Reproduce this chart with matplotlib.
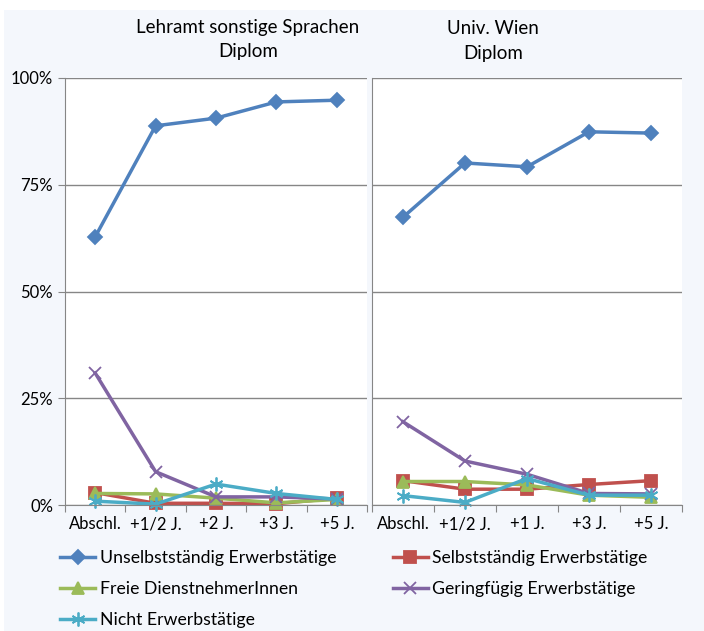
import matplotlib.pyplot as plt
import matplotlib.patches as mpatches

plt.rcParams['font.family'] = ['Lato', 'DejaVu Sans']

# Data
cats_left = ["Abschl.", "+1/2 J.", "+2 J.", "+3 J.", "+5 J."]
cats_right = ["Abschl.", "+1/2 J.", "+1 J.", "+3 J.", "+5 J."]

unselb_left = [62.8, 88.8, 90.6, 94.4, 94.8]
selb_left = [2.9, 0.4, 0.4, 0.3, 1.6]
freie_left = [2.7, 2.6, 1.6, 0.5, 1.3]
gering_left = [30.9, 7.8, 1.9, 1.9, 1.4]
nicht_left = [0.9, 0.2, 4.9, 2.7, 1.3]

unselb_right = [67.4, 80.1, 79.2, 87.4, 87.1]
selb_right = [5.7, 3.7, 3.7, 4.8, 5.7]
freie_right = [5.5, 5.5, 4.7, 2.3, 1.8]
gering_right = [19.5, 10.3, 7.2, 2.7, 2.6]
nicht_right = [2.2, 0.6, 6.2, 2.3, 2.3]

names = ["Unselbstständig Erwerbstätige", "Selbstständig Erwerbstätige",
         "Freie DienstnehmerInnen", "Geringfügig Erwerbstätige", "Nicht Erwerbstätige"]
colors = ["#4F81BD", "#C0504D", "#9BBB59", "#8064A2", "#4BACC6"]
markers = ["D", "s", "^", "x", (6, 2, 0)]
msizes = [7, 8, 8, 9, 10]

fig = plt.figure(figsize=(7.04, 6.31), dpi=100, facecolor="white")
fig.patches.append(mpatches.Rectangle((4 / 704, 0), 1, 1 - 10 / 631, transform=fig.transFigure,
                                      facecolor="#F4F7FC", edgecolor="none", zorder=-10))

ax1 = fig.add_axes([65 / 704, 1 - 505 / 631, 302 / 704, 427 / 631])
ax2 = fig.add_axes([372 / 704, 1 - 505 / 631, 310 / 704, 427 / 631])

handles = []
for ax, cats, series in [(ax1, cats_left, [unselb_left, selb_left, freie_left, gering_left, nicht_left]),
                         (ax2, cats_right, [unselb_right, selb_right, freie_right, gering_right, nicht_right])]:
    x = list(range(len(cats)))
    hs = []
    for vals, c, m, ms, n in zip(series, colors, markers, msizes, names):
        h, = ax.plot(x, vals, color=c, marker=m, markersize=ms, lw=2.5,
                     markeredgecolor=c, markeredgewidth=1.3, label=n, clip_on=False)
        hs.append(h)
    handles = hs
    ax.set_xlim(-0.5, 4.5)
    ax.set_ylim(0, 100)
    ax.set_facecolor("white")
    ax.set_xticks([i - 0.5 for i in range(6)])
    ax.set_xticklabels([])
    ax.set_xticks(x, minor=True)
    ax.set_xticklabels(cats, minor=True, fontsize=12)
    ax.tick_params(axis="x", which="major", direction="out", length=5, color="#868686")
    ax.tick_params(axis="x", which="minor", length=0, pad=8)
    ax.set_yticks([0, 25, 50, 75, 100])
    ax.yaxis.grid(True, color="#868686", lw=1)
    ax.set_axisbelow(True)
    for s in ["top", "right"]:
        ax.spines[s].set_visible(False)
    ax.spines["left"].set_color("#868686")
    ax.spines["bottom"].set_color("#868686")

ax1.set_yticklabels(["0%", "25%", "50%", "75%", "100%"], fontsize=12)
ax1.tick_params(axis="y", direction="out", length=5, color="#868686")
ax2.set_yticklabels([])
ax2.tick_params(axis="y", length=0)

fig.text(248 / 704, 1 - 39 / 631, "Lehramt sonstige Sprachen\nDiplom", ha="center", va="center",
         fontsize=13.5, linespacing=1.5)
fig.text(493 / 704, 1 - 41 / 631, "Univ. Wien\nDiplom", ha="center", va="center",
         fontsize=13.5, linespacing=1.5)

order = [0, 2, 4, 1, 3]
fig.legend([handles[i] for i in order], [names[i] for i in order], ncol=2,
           loc="upper left", bbox_to_anchor=(44 / 704, 1 - 534 / 631), frameon=False,
           fontsize=12.7, handlelength=2.0, handletextpad=0.25, columnspacing=3.2,
           labelspacing=0.85)

plt.savefig("out.png", dpi=100)
